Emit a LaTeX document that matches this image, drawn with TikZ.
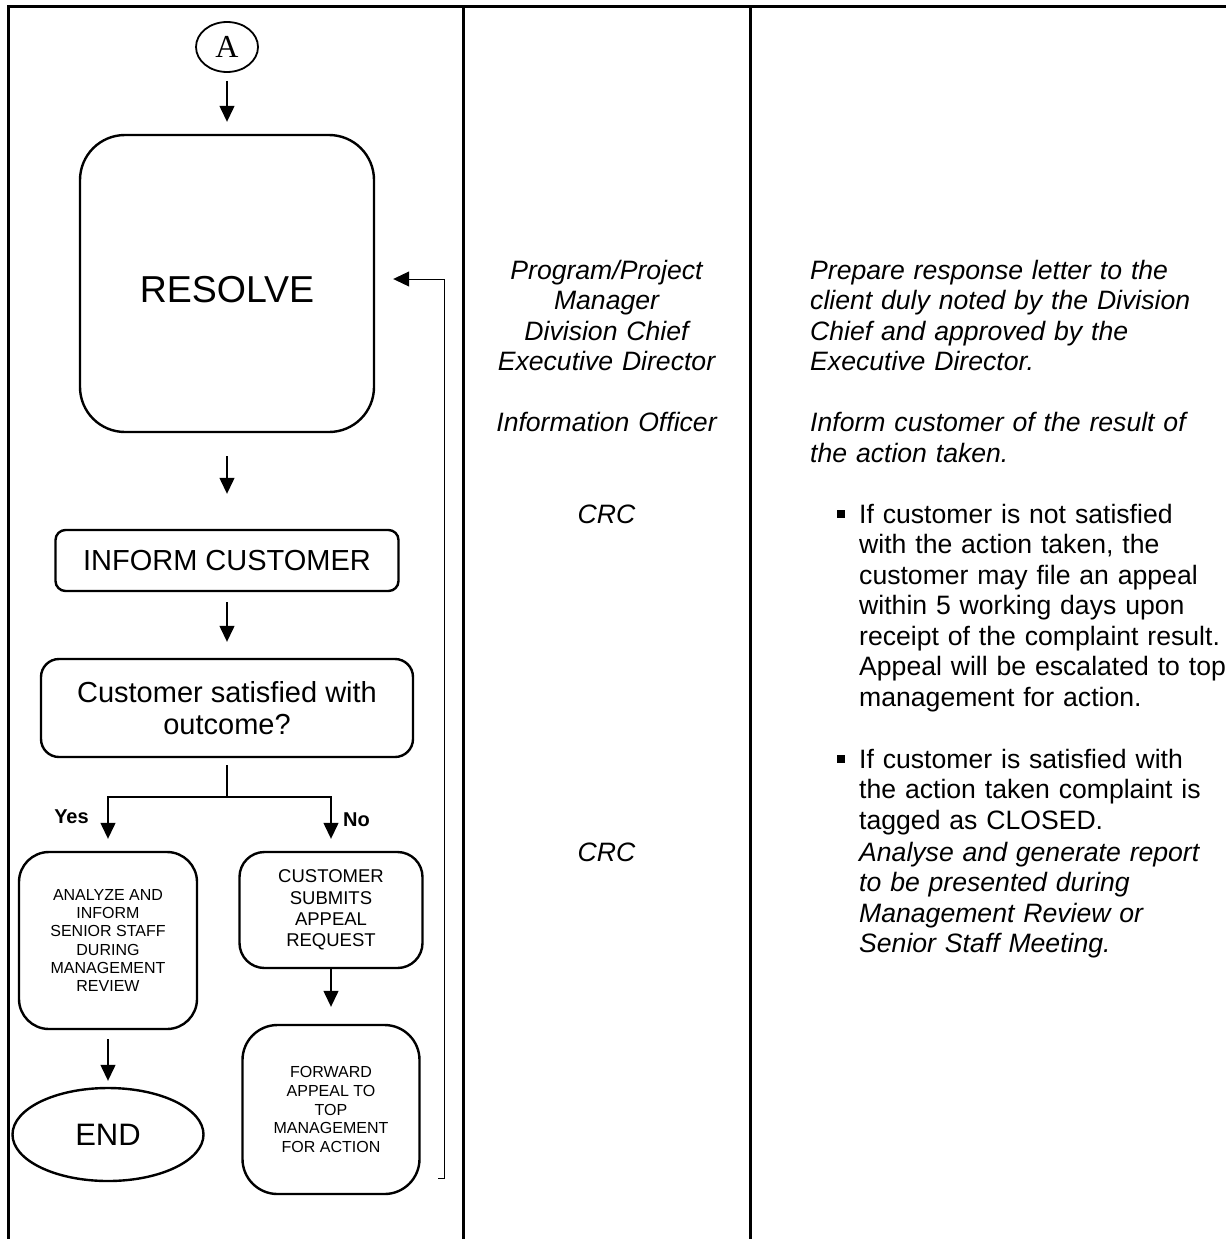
\documentclass[tikz,border=0pt]{standalone}
\usepackage{fontspec}
\setmainfont{Liberation Sans}
\newfontfamily\timesfont{Liberation Serif}
\usetikzlibrary{arrows.meta, shapes.geometric}

\begin{document}
\begin{tikzpicture}[x=1pt, y=-1pt,
    flowbox/.style={draw, line width=2.4pt, rounded corners=#1, align=center, inner sep=0pt},
    flowbox/.default=20pt,
    flowarrow/.style={-{Triangle[width=15pt,length=16pt]}, line width=1.3pt},
    colline/.style={line width=3pt},
    roletext/.style={font=\fontsize{26.6}{30.5}\selectfont\itshape, text width=280pt, align=center, anchor=base, inner sep=0pt},
    steptext/.style={font=\fontsize{26.6}{30.5}\selectfont\itshape, text width=400pt, align=left, anchor=base west, inner sep=0pt},
    bullettext/.style={font=\fontsize{26.6}{30.5}\selectfont, text width=370pt, align=left, anchor=base west, inner sep=0pt}]
    \useasboundingbox (0,0) rectangle (1226,1239);

    \draw[colline] (8,1239) -- (8,7) -- (1226,7);
    \draw[colline] (463,7) -- (463,1239);
    \draw[colline] (750,7) -- (750,1239);

    \node[draw, ellipse, line width=1.8pt, minimum width=62pt, minimum height=50pt, inner sep=0pt, font=\timesfont\fontsize{32}{32}\selectfont] (conA) at (227,47) {A};
    \node[flowbox=45pt, minimum width=294pt, minimum height=297pt, text height=39pt, font=\fontsize{37.5}{37.5}\selectfont] (resolve) at (227,283.5) {RESOLVE};
    \node[flowbox=10pt, minimum width=343pt, minimum height=61pt, font=\fontsize{29}{32}\selectfont] (inform) at (227,560.5) {INFORM CUSTOMER};
    \node[flowbox=18pt, minimum width=372pt, minimum height=98pt, font=\fontsize{29}{32}\selectfont] (satisfied) at (227,708) {Customer satisfied with\\outcome?};
    \node[flowbox=30pt, minimum width=178pt, minimum height=177pt, font=\fontsize{16}{18.3}\selectfont] (analyze) at (108,940.5) {ANALYZE AND\\INFORM\\SENIOR STAFF\\DURING\\MANAGEMENT\\REVIEW};
    \node[flowbox=25pt, minimum width=183pt, minimum height=116pt, font=\fontsize{18.5}{21.2}\selectfont] (submit) at (331,910) {CUSTOMER\\SUBMITS\\APPEAL\\REQUEST};
    \node[flowbox=35pt, minimum width=177pt, minimum height=169pt, font=\fontsize{16}{18.6}\selectfont] (forward) at (331,1109.5) {FORWARD\\APPEAL TO\\TOP\\MANAGEMENT\\FOR ACTION};
    \node[draw, ellipse, line width=2.4pt, minimum width=191pt, minimum height=93pt, inner sep=0pt, font=\fontsize{31}{31}\selectfont] (finish) at (108,1134.5) {END};

    \node[font=\bfseries\fontsize{20}{20}\selectfont] (yes) at (71.5,817) {Yes};
    \node[font=\bfseries\fontsize{20}{20}\selectfont] (no) at (356.5,820) {No};

    \draw[flowarrow, shorten <=8pt, shorten >=12pt] (conA) -- (resolve);
    \draw[flowarrow, shorten <=23pt, shorten >=35pt] (resolve) -- (inform);
    \draw[flowarrow, shorten <=10pt, shorten >=16pt] (inform) -- (satisfied);
    \coordinate (split) at (227,797);
    \draw[line width=1.3pt, shorten <=7pt] (satisfied) -- (split);
    \draw[flowarrow, shorten >=12pt] (split) -| (analyze);
    \draw[flowarrow, shorten >=12pt] (split) -| (submit);
    \draw[flowarrow, shorten >=17pt] (submit) -- (forward);
    \draw[flowarrow, shorten <=9pt, shorten >=6pt] (analyze) -- (finish);

    \coordinate (loopfoot) at (438,1178);
    \coordinate (looptop) at (444,279);
    \draw[-{Triangle[width=15pt,length=16pt]}, line width=1pt, shorten >=18pt] (loopfoot) -- (loopfoot -| looptop) -- (looptop) -- (looptop -| resolve.east);

    \node[roletext] (rolepm) at (606.5,279) {Program/Project\\Manager\\Division Chief\\Executive Director};
    \node[roletext] (roleio) at (606.5,431.5) {Information Officer};
    \node[roletext] (rolecrc) at (606.5,523) {CRC};
    \node[roletext] (rolecrcb) at (606.5,861) {CRC};

    \node[steptext] (stepletter) at (810,279) {Prepare response letter to the\\client duly noted by the Division\\Chief and approved by the\\Executive Director.};
    \node[steptext] (stepinform) at (810,431.5) {Inform customer of the result of\\the action taken.};
    \node[bullettext] (bulletno) at (859,523) {If customer is not satisfied\\with the action taken, the\\customer may file an appeal\\within 5 working days upon\\receipt of the complaint result.\\Appeal will be escalated to top\\management for action.};
    \node[bullettext] (bulletyes) at (859,768) {If customer is satisfied with\\the action taken complaint is\\tagged as CLOSED.};
    \node[steptext] (stepreport) at (859,861) {Analyse and generate report\\to be presented during\\Management Review or\\Senior Staff Meeting.};
    \fill ([shift={(-22,-13)}]bulletno.base west) rectangle ++(8,8);
    \fill ([shift={(-22,-13)}]bulletyes.base west) rectangle ++(8,8);
\end{tikzpicture}
\end{document}
